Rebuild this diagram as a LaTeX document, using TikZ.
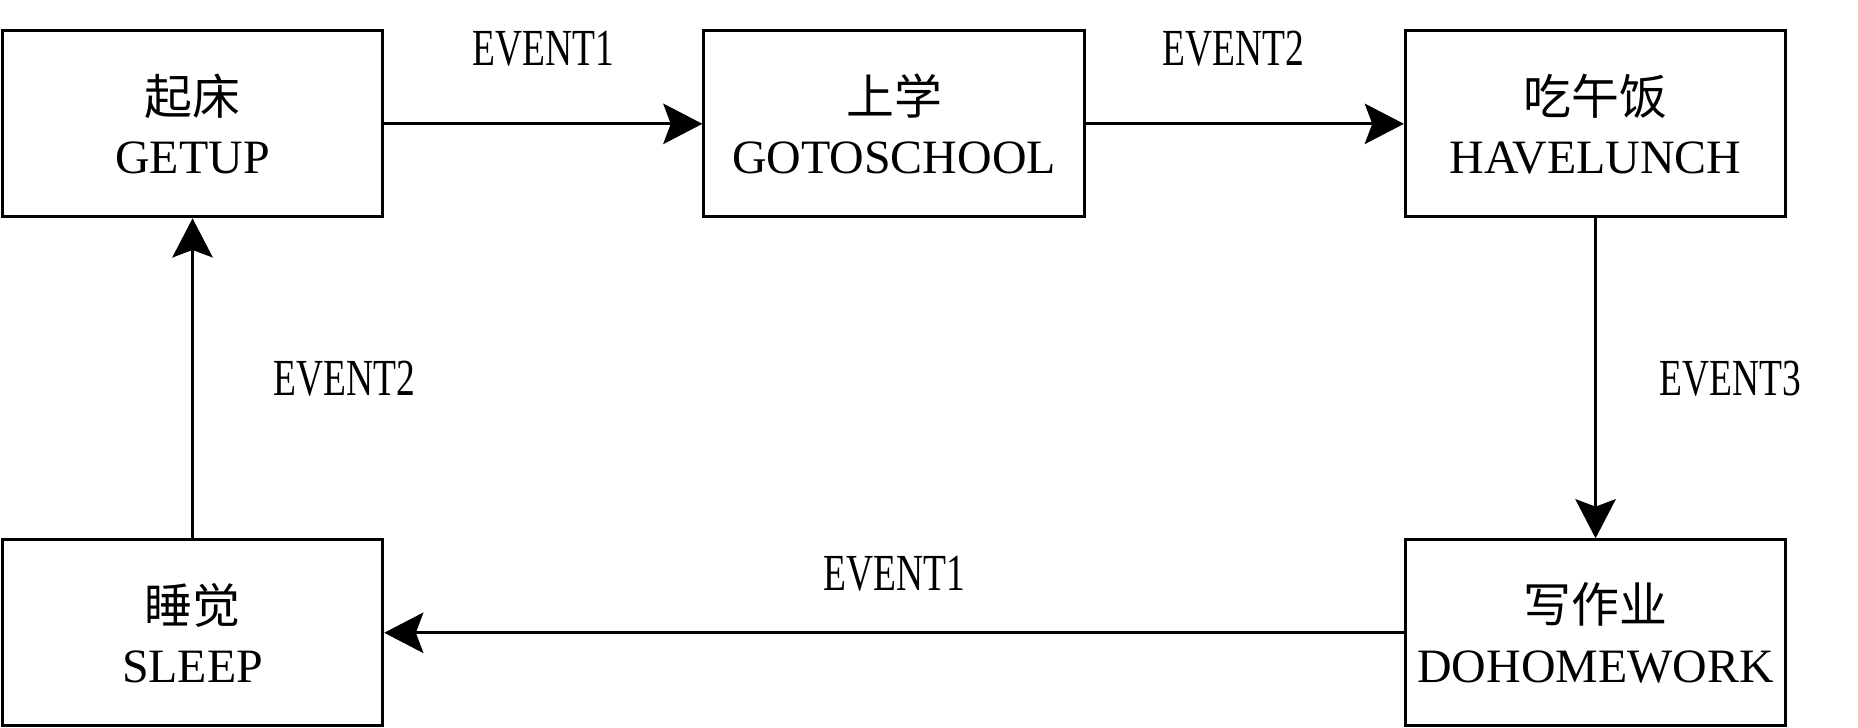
\documentclass[tikz,border=0pt]{standalone}
\usepackage{fontspec}
\usepackage{tikz}
\usetikzlibrary{arrows.meta}
\setmainfont{Liberation Serif}
\newfontfamily\cjk{Noto Sans CJK SC}
\newfontfamily\evfont[FakeStretch=0.72]{Liberation Serif}

\tikzset{
    state/.style={draw, line width=0.7pt, rectangle, minimum width=3.21cm, minimum height=1.57cm,
        inner sep=0pt, align=center, font=\fontsize{11.5}{14.2}\selectfont},
    trans/.style={line width=0.7pt, -{Stealth[length=9.4pt,width=9.7pt,inset=1.8pt]}},
    evlabel/.style={inner sep=0pt, font=\evfont\fontsize{12.5}{14}\selectfont}
}

\begin{document}
\begin{tikzpicture}
    \useasboundingbox (0,0) rectangle (15.68,-6.14);
    \node[state] (getup) at (1.625,-1.045) {{\cjk 起床}\\GETUP};
    \node[state] (school) at (7.545,-1.045) {{\cjk 上学}\\GOTOSCHOOL};
    \node[state] (lunch) at (13.465,-1.045) {{\cjk 吃午饭}\\HAVELUNCH};
    \node[state] (sleep) at (1.625,-5.34) {{\cjk 睡觉}\\SLEEP};
    \node[state] (homework) at (13.465,-5.34) {{\cjk 写作业}\\DOHOMEWORK};
    \draw[trans] (getup) -- node[evlabel, above=0.47cm] {EVENT1} (school);
    \draw[trans] (school) -- node[evlabel, above=0.47cm, xshift=-0.1cm] {EVENT2} (lunch);
    \draw[trans] (lunch) -- node[evlabel, right=0.53cm] {EVENT3} (homework);
    \draw[trans] (homework) -- node[evlabel, above=0.34cm] {EVENT1} (sleep);
    \draw[trans] (sleep) -- node[evlabel, right=0.67cm] {EVENT2} (getup);
\end{tikzpicture}
\end{document}
